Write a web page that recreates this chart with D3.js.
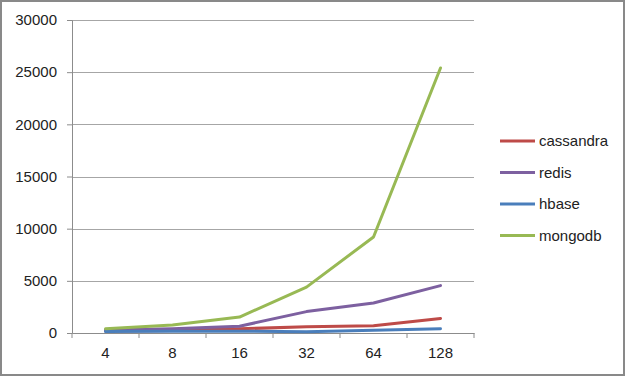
<!DOCTYPE html>
<html>
<head>
<meta charset="utf-8">
<script src="https://cdn.jsdelivr.net/npm/d3@7"></script>
<style>
  body { margin: 0; background: #fff; }
  svg { display: block; font-family: "Liberation Sans", Arial, sans-serif; }
</style>
</head>
<body>
<div id="chart"></div>
<script>
// data
var categories = ["4", "8", "16", "32", "64", "128"];
var seriesNames = ["cassandra", "redis", "hbase", "mongodb"];
var cassandra = [200, 250, 400, 600, 700, 1400];
var redis = [290, 400, 650, 2050, 2870, 4540];
var hbase = [150, 160, 170, 120, 260, 410];
var mongodb = [410, 770, 1530, 4400, 9200, 25400];
var yTicks = [0, 5000, 10000, 15000, 20000, 25000, 30000];

var colors = ["#BE4B48", "#7D60A0", "#4A7EBB", "#98B954"];
var series = [cassandra, redis, hbase, mongodb].map(function(v, i) {
  return { name: seriesNames[i], values: v, color: colors[i] };
});

var width = 625, height = 376;
var margin = {top: 20, right: 151, bottom: 43, left: 72};

var svg = d3.select("#chart").append("svg")
  .attr("width", width)
  .attr("height", height);

// outer frame
svg.append("rect")
  .attr("x", 1).attr("y", 1)
  .attr("width", width - 2).attr("height", height - 2)
  .attr("fill", "#fff")
  .attr("stroke", "#898989")
  .attr("stroke-width", 2);

var g = svg.append("g")
  .attr("transform", "translate(" + margin.left + "," + margin.top + ")");

var w = width - margin.left - margin.right;
var h = height - margin.top - margin.bottom;

var x = d3.scaleBand().domain(categories).range([0, w]);
var y = d3.scaleLinear().domain([0, 30000]).range([h, 0]);

// gridlines
g.selectAll(".grid")
  .data(yTicks.slice(1))
  .enter().append("line")
  .attr("x1", 0).attr("x2", w)
  .attr("y1", d => Math.round(y(d)) + 0.5)
  .attr("y2", d => Math.round(y(d)) + 0.5)
  .attr("stroke", "#a6a6a6");

// y axis
var yAxis = g.append("g")
  .call(d3.axisLeft(y).tickValues(yTicks).tickSize(5).tickPadding(10).tickFormat(d3.format("d")));
yAxis.select(".domain").attr("stroke", "#8c8c8c");
yAxis.selectAll(".tick line").attr("stroke", "#8c8c8c");
yAxis.selectAll("text").attr("font-size", "15px").attr("fill", "#222");

// x axis: ticks sit on band edges
var xAxis = g.append("g")
  .attr("transform", "translate(0," + h + ")")
  .call(d3.axisBottom(x).tickSize(0).tickPadding(14));
xAxis.select(".domain").attr("stroke", "#8c8c8c");
xAxis.selectAll("text").attr("font-size", "15px").attr("fill", "#222");
g.selectAll(".xtick")
  .data(d3.range(categories.length + 1))
  .enter().append("line")
  .attr("x1", i => i * x.bandwidth()).attr("x2", i => i * x.bandwidth())
  .attr("y1", h).attr("y2", h + 5)
  .attr("stroke", "#8c8c8c");

// lines
var line = d3.line()
  .x((d, i) => x(categories[i]) + x.bandwidth() / 2)
  .y(d => y(d));

g.selectAll(".series")
  .data(series)
  .enter().append("path")
  .attr("d", d => line(d.values))
  .attr("fill", "none")
  .attr("stroke", d => d.color)
  .attr("stroke-width", 3)
  .attr("stroke-linejoin", "round")
  .attr("stroke-linecap", "round");

// legend
var legend = svg.selectAll(".legend")
  .data(series)
  .enter().append("g")
  .attr("transform", (d, i) => "translate(500," + (141 + i * 31.5) + ")");

legend.append("line")
  .attr("x1", 0).attr("x2", 35)
  .attr("stroke", d => d.color)
  .attr("stroke-width", 3);

legend.append("text")
  .attr("x", 39)
  .attr("dy", "0.35em")
  .attr("font-size", "15px")
  .attr("fill", "#222")
  .text(d => d.name);
</script>
</body>
</html>
